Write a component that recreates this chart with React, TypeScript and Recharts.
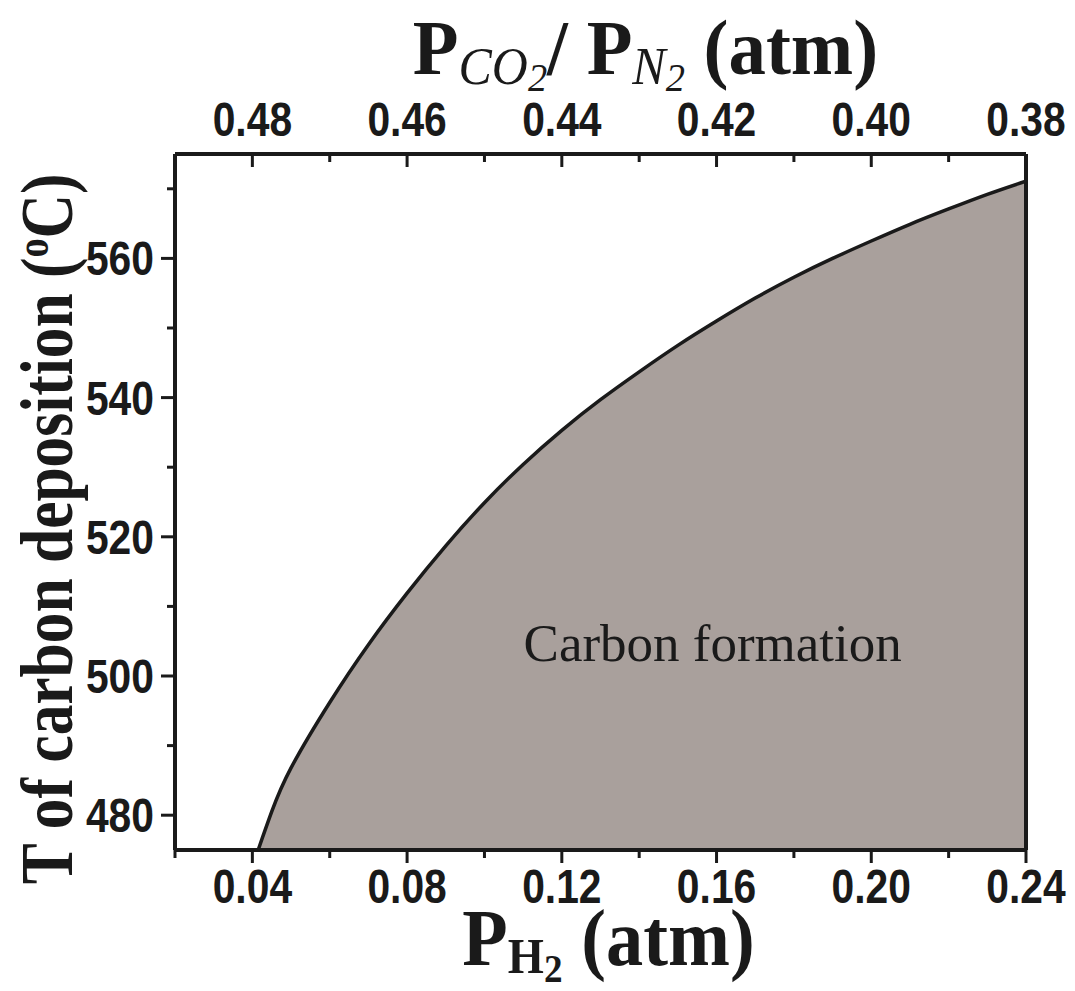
import React from "react";
import {
  ComposedChart,
  Area,
  XAxis,
  YAxis,
  ReferenceDot,
} from "recharts";

// ---- data ----
const pH2 = [0.0415, 0.045, 0.05, 0.06, 0.07, 0.08, 0.09, 0.1, 0.11, 0.12, 0.13, 0.14, 0.15, 0.16, 0.17, 0.18, 0.19, 0.2, 0.21, 0.22, 0.23, 0.24];
const tDep = [475.0, 480.5, 486.8, 496.2, 504.5, 511.9, 518.7, 524.9, 530.4, 535.3, 539.7, 543.7, 547.5, 551.0, 554.3, 557.3, 560.0, 562.5, 564.9, 567.1, 569.2, 571.1];

// bottom axis (P_H2) ticks
const bottomMajor = [0.04, 0.08, 0.12, 0.16, 0.2, 0.24];
const bottomMinor = [0.02, 0.06, 0.1, 0.14, 0.18, 0.22];
// top axis (P_CO2 / P_N2) labels, aligned with bottomMajor positions
const topMajor = [0.48, 0.46, 0.44, 0.42, 0.4, 0.38];
// left axis ticks
const leftMajor = [480, 500, 520, 540, 560];
const leftMinor = [490, 510, 530, 550, 570];

const data = pH2.map((p, i) => ({ pH2: p, T: tDep[i] }));

const INK = "#1a1a1a";
const FILL = "#a9a09c";
const SANS = "'Liberation Sans', Arial, Helvetica, sans-serif";
const SERIF = "'Liberation Serif', 'Times New Roman', Times, serif";

const idxIn = (v: number, arr: number[]) => arr.findIndex((a) => Math.abs(a - v) < 1e-6);

const BottomTick = (props: any) => {
  const { x, y, payload } = props;
  const v = payload.value as number;
  const major = idxIn(v, bottomMajor) >= 0;
  return (
    <g>
      <line x1={x} x2={x} y1={y} y2={y + (major ? 13 : 8)} stroke={INK} strokeWidth={3} />
      {major && (
        <text
          transform={`translate(${x},${y + 53}) scale(0.85,1)`}
          textAnchor="middle"
          fontFamily={SANS}
          fontWeight="bold"
          fontSize={48}
          fill={INK}
        >
          {v.toFixed(2)}
        </text>
      )}
    </g>
  );
};

const TopTick = (props: any) => {
  const { x, y, payload } = props;
  const v = payload.value as number;
  const i = idxIn(v, bottomMajor);
  const major = i >= 0;
  return (
    <g>
      <line x1={x} x2={x} y1={y} y2={y + (major ? 13 : 8)} stroke={INK} strokeWidth={3} />
      {major && (
        <text
          transform={`translate(${x},${y - 18}) scale(0.85,1)`}
          textAnchor="middle"
          fontFamily={SANS}
          fontWeight="bold"
          fontSize={48}
          fill={INK}
        >
          {topMajor[i].toFixed(2)}
        </text>
      )}
    </g>
  );
};

const LeftTick = (props: any) => {
  const { x, y, payload } = props;
  const v = payload.value as number;
  const major = idxIn(v, leftMajor) >= 0;
  return (
    <g>
      <line x1={x - (major ? 14 : 8)} x2={x} y1={y} y2={y} stroke={INK} strokeWidth={3} />
      {major && (
        <text
          transform={`translate(${x - 21},${y + 17}) scale(0.85,1)`}
          textAnchor="end"
          fontFamily={SANS}
          fontWeight="bold"
          fontSize={48}
          fill={INK}
        >
          {String(v)}
        </text>
      )}
    </g>
  );
};

const BottomTitle = (props: any) => {
  const vb = props.viewBox || { x: 175, width: 851, y: 850 };
  const cx = vb.x + vb.width / 2;
  return (
    <text
      transform={`translate(${cx + 8},${vb.y + 115}) scale(0.93,1)`}
      textAnchor="middle"
      fontFamily={SERIF}
      fontWeight="bold"
      fontSize={80}
      fill={INK}
    >
      P
      <tspan fontSize={50} dy={8}>H</tspan>
      <tspan fontSize={40} dy={9}>2</tspan>
      <tspan dy={-17}> (atm)</tspan>
    </text>
  );
};

const TopTitle = (props: any) => {
  const vb = props.viewBox || { x: 175, width: 851 };
  const cx = vb.x + vb.width / 2;
  return (
    <text
      transform={`translate(${cx + 45},74) scale(0.96,1)`}
      textAnchor="middle"
      fontFamily={SERIF}
      fontWeight="bold"
      fontSize={78}
      fill={INK}
    >
      P
      <tspan fontSize={52} fontStyle="italic" fontWeight="normal" dy={10}>CO</tspan>
      <tspan fontSize={40} fontStyle="italic" fontWeight="normal" dy={7}>2</tspan>
      <tspan dy={-17}>/ P</tspan>
      <tspan fontSize={52} fontStyle="italic" fontWeight="normal" dy={10}>N</tspan>
      <tspan fontSize={40} fontStyle="italic" fontWeight="normal" dy={7}>2</tspan>
      <tspan dy={-17}> (atm)</tspan>
    </text>
  );
};

const LeftTitle = (props: any) => {
  const vb = props.viewBox || { y: 154, height: 696 };
  const cy = vb.y + vb.height / 2;
  return (
    <text
      transform={`translate(72,${cy + 27}) rotate(-90) scale(0.83,1)`}
      textAnchor="middle"
      fontFamily={SERIF}
      fontWeight="bold"
      fontSize={74}
      fill={INK}
    >
      T of carbon deposition (
      <tspan fontSize={46} dy={-24}>o</tspan>
      <tspan dy={24}>C)</tspan>
    </text>
  );
};

const RegionLabel = (props: any) => {
  const vb = props.viewBox || { x: 0, y: 0 };
  const x = vb.cx !== undefined ? vb.cx : vb.x + (vb.width || 0) / 2;
  const y = vb.cy !== undefined ? vb.cy : vb.y + (vb.height || 0) / 2;
  return (
    <text x={x} y={y} textAnchor="middle" fontFamily={SERIF} fontSize={53} fill={INK}>
      Carbon formation
    </text>
  );
};

export default function App() {
  return (
    <div style={{ position: "absolute", left: 0, top: 0, width: 1075, height: 991, background: "#fff" }}>
      <ComposedChart
        width={1075}
        height={991}
        data={data}
        margin={{ top: 0, right: 48, bottom: 0, left: 0 }}
      >
        <XAxis
          xAxisId="bottom"
          orientation="bottom"
          type="number"
          dataKey="pH2"
          domain={[0.02, 0.24]}
          allowDataOverflow
          ticks={[...bottomMajor, ...bottomMinor].sort((a, b) => a - b)}
          interval={0}
          tickSize={0}
          tickMargin={0}
          tickLine={false}
          tick={<BottomTick />}
          axisLine={{ stroke: INK, strokeWidth: 4 }}
          height={141}
          label={<BottomTitle />}
        />
        <XAxis
          xAxisId="top"
          orientation="top"
          type="number"
          dataKey="pH2"
          domain={[0.02, 0.24]}
          allowDataOverflow
          ticks={[...bottomMajor, ...bottomMinor].sort((a, b) => a - b)}
          interval={0}
          tickSize={0}
          tickMargin={0}
          tickLine={false}
          tick={<TopTick />}
          axisLine={{ stroke: INK, strokeWidth: 4 }}
          height={154}
          label={<TopTitle />}
        />
        <YAxis
          yAxisId="left"
          orientation="left"
          type="number"
          domain={[475, 575]}
          allowDataOverflow
          ticks={[...leftMajor, ...leftMinor].sort((a, b) => a - b)}
          interval={0}
          tickSize={0}
          tickMargin={0}
          tickLine={false}
          tick={<LeftTick />}
          axisLine={{ stroke: INK, strokeWidth: 4 }}
          width={175}
          label={<LeftTitle />}
        />
        <YAxis
          yAxisId="right"
          orientation="right"
          type="number"
          domain={[475, 575]}
          tick={false}
          tickLine={false}
          axisLine={{ stroke: INK, strokeWidth: 4 }}
          width={1}
        />
        <Area
          xAxisId="bottom"
          yAxisId="left"
          type="natural"
          dataKey="T"
          baseValue={475}
          stroke={INK}
          strokeWidth={3.5}
          fill={FILL}
          fillOpacity={1}
          isAnimationActive={false}
          dot={false}
          activeDot={false}
        />
        <ReferenceDot
          xAxisId="bottom"
          yAxisId="left"
          x={0.159}
          y={502.2}
          r={0}
          fill="none"
          stroke="none"
          label={<RegionLabel />}
        />
      </ComposedChart>
    </div>
  );
}
